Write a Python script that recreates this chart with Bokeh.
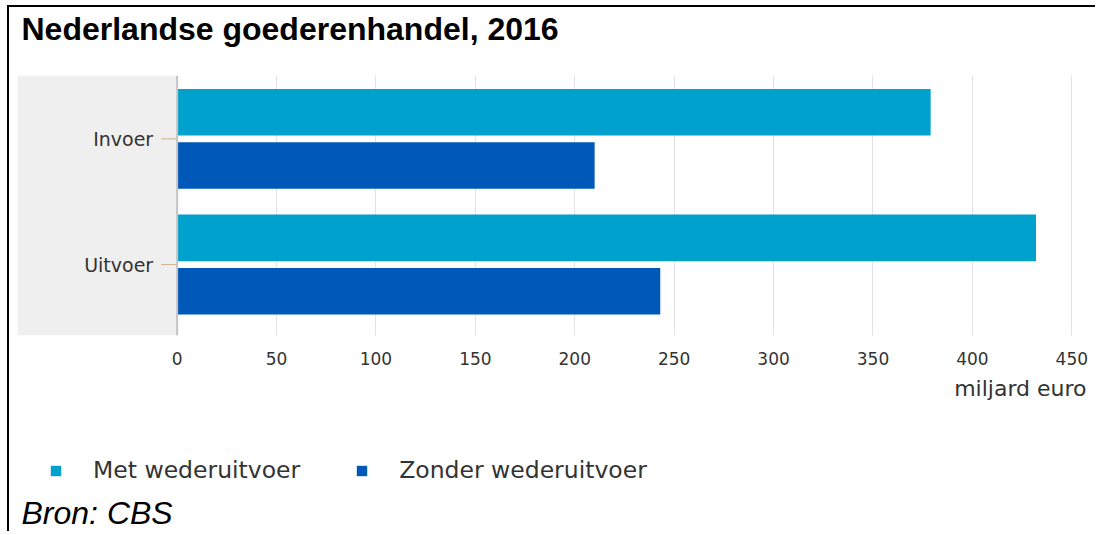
from bokeh.plotting import figure
from bokeh.layouts import column
from bokeh.models import (FactorRange, Range1d, FixedTicker, Span, BoxAnnotation,
                          Legend, LegendItem, Title, Label, ColumnDataSource)
from bokeh.transform import dodge
from bokeh.core.properties import value
from bokeh.embed import file_html
from bokeh.resources import INLINE

categories = ["Invoer", "Uitvoer"]
met_wederuitvoer = [379, 432]
zonder_wederuitvoer = [210, 243]
x_ticks = [0, 50, 100, 150, 200, 250, 300, 350, 400, 450]
series_names = ["Met wederuitvoer", "Zonder wederuitvoer"]
title_text = "Nederlandse goederenhandel, 2016"
x_label = "miljard euro"
source_text = "Bron: CBS"

C_MET = "#00a1cd"
C_ZON = "#0058b8"
TXT = "#333333"

src = ColumnDataSource(dict(cat=categories, met=met_wederuitvoer, zon=zonder_wederuitvoer))

# ---------------- title strip ----------------
t = figure(width=1088, height=68, output_backend="svg", toolbar_location=None,
           x_range=Range1d(0, 1), y_range=Range1d(0, 1),
           min_border_left=0, min_border_right=0, min_border_top=0, min_border_bottom=0)
t.styles = {"margin-left": "7px", "margin-top": "5px",
            "border-left": "2px solid black", "border-top": "2px solid black"}
t.axis.visible = False
t.grid.visible = False
t.outline_line_color = None
t.add_layout(Label(x=4, y=47, x_units="screen", y_units="screen", text=title_text,
                   text_font="Liberation Sans", text_font_style="bold",
                   text_font_size="32px", text_color="black", text_baseline="middle"))

# ---------------- main chart ----------------
p = figure(width=1088, height=340, output_backend="svg", toolbar_location=None, title=None,
           y_range=FactorRange(factors=list(reversed(categories)), range_padding=0.034,
                               range_padding_units="absolute"),
           x_range=Range1d(-80.3, 457.4),
           min_border_left=8, min_border_right=11, min_border_top=2, min_border_bottom=78)
p.styles = {"margin-left": "7px", "border-left": "2px solid black"}

p.outline_line_color = None
p.background_fill_color = "white"

p.add_layout(BoxAnnotation(right=0, fill_color="#efefef", fill_alpha=1.0,
                           line_color=None, level="underlay"))

r1 = p.hbar(y=dodge("cat", 0.242, range=p.y_range), left=0, right="met", height=0.371,
            source=src, fill_color=C_MET, line_color=None)
r2 = p.hbar(y=dodge("cat", -0.182, range=p.y_range), left=0, right="zon", height=0.371,
            source=src, fill_color=C_ZON, line_color=None)

p.add_layout(Span(location=0, dimension="height", line_color="#c4c4c4", line_width=2))

ycat = dodge("cat", 0.03, range=p.y_range)
p.segment(x0=-8, x1=0, y0=ycat, y1=ycat, source=src, line_color="#d0b08c", line_width=1)
p.text(x=0, y=ycat, text="cat", source=src, x_offset=-24, text_align="right",
       text_baseline="middle", text_font=value("DejaVu Sans"), text_font_size="19px",
       text_color=TXT)

p.yaxis.visible = False
p.ygrid.visible = False

ax = p.xaxis[0]
ax.ticker = FixedTicker(ticks=x_ticks)
ax.axis_line_color = None
ax.major_tick_line_color = None
ax.minor_tick_line_color = None
ax.major_label_standoff = 10
ax.major_label_text_font = "DejaVu Sans"
ax.major_label_text_font_size = "17px"
ax.major_label_text_color = TXT

p.xgrid.ticker = FixedTicker(ticks=x_ticks)
p.xgrid.grid_line_color = "#e3e3e3"
p.xgrid.grid_line_width = 1

p.add_layout(Title(text=x_label, text_font="DejaVu Sans", text_font_style="normal",
                   text_font_size="22px", text_color=TXT, align="right", offset=0,
                   standoff=12), "below")

# ---------------- legend + source strip ----------------
q = figure(width=1088, height=118, output_backend="svg", toolbar_location=None,
           x_range=Range1d(0, 1), y_range=FactorRange(factors=categories),
           min_border_left=0, min_border_right=0, min_border_top=0, min_border_bottom=0)
q.styles = {"margin-left": "7px", "border-left": "2px solid black"}
q.axis.visible = False
q.grid.visible = False
q.outline_line_color = None

k1 = q.hbar(y="cat", left=0, right="met", height=0.371, source=src,
            fill_color=C_MET, line_color=None, visible=False)
k2 = q.hbar(y="cat", left=0, right="zon", height=0.371, source=src,
            fill_color=C_ZON, line_color=None, visible=False)

legend = Legend(items=[LegendItem(label=series_names[0], renderers=[k1]),
                       LegendItem(label=series_names[1], renderers=[k2])],
                orientation="horizontal", location=(32, 47),
                glyph_width=13, glyph_height=13, label_standoff=31, spacing=55,
                padding=0, margin=0, border_line_color=None, background_fill_alpha=0,
                label_text_font="DejaVu Sans", label_text_font_size="23.5px",
                label_text_color=TXT, label_height=20)
q.add_layout(legend, "center")

q.add_layout(Label(x=4, y=19, x_units="screen", y_units="screen", text=source_text,
                   text_font="Liberation Sans", text_font_style="italic",
                   text_font_size="32px", text_color="black", text_baseline="middle"))

layout = column(t, p, q, spacing=0)
open("out.html", "w").write(file_html(layout, INLINE))
